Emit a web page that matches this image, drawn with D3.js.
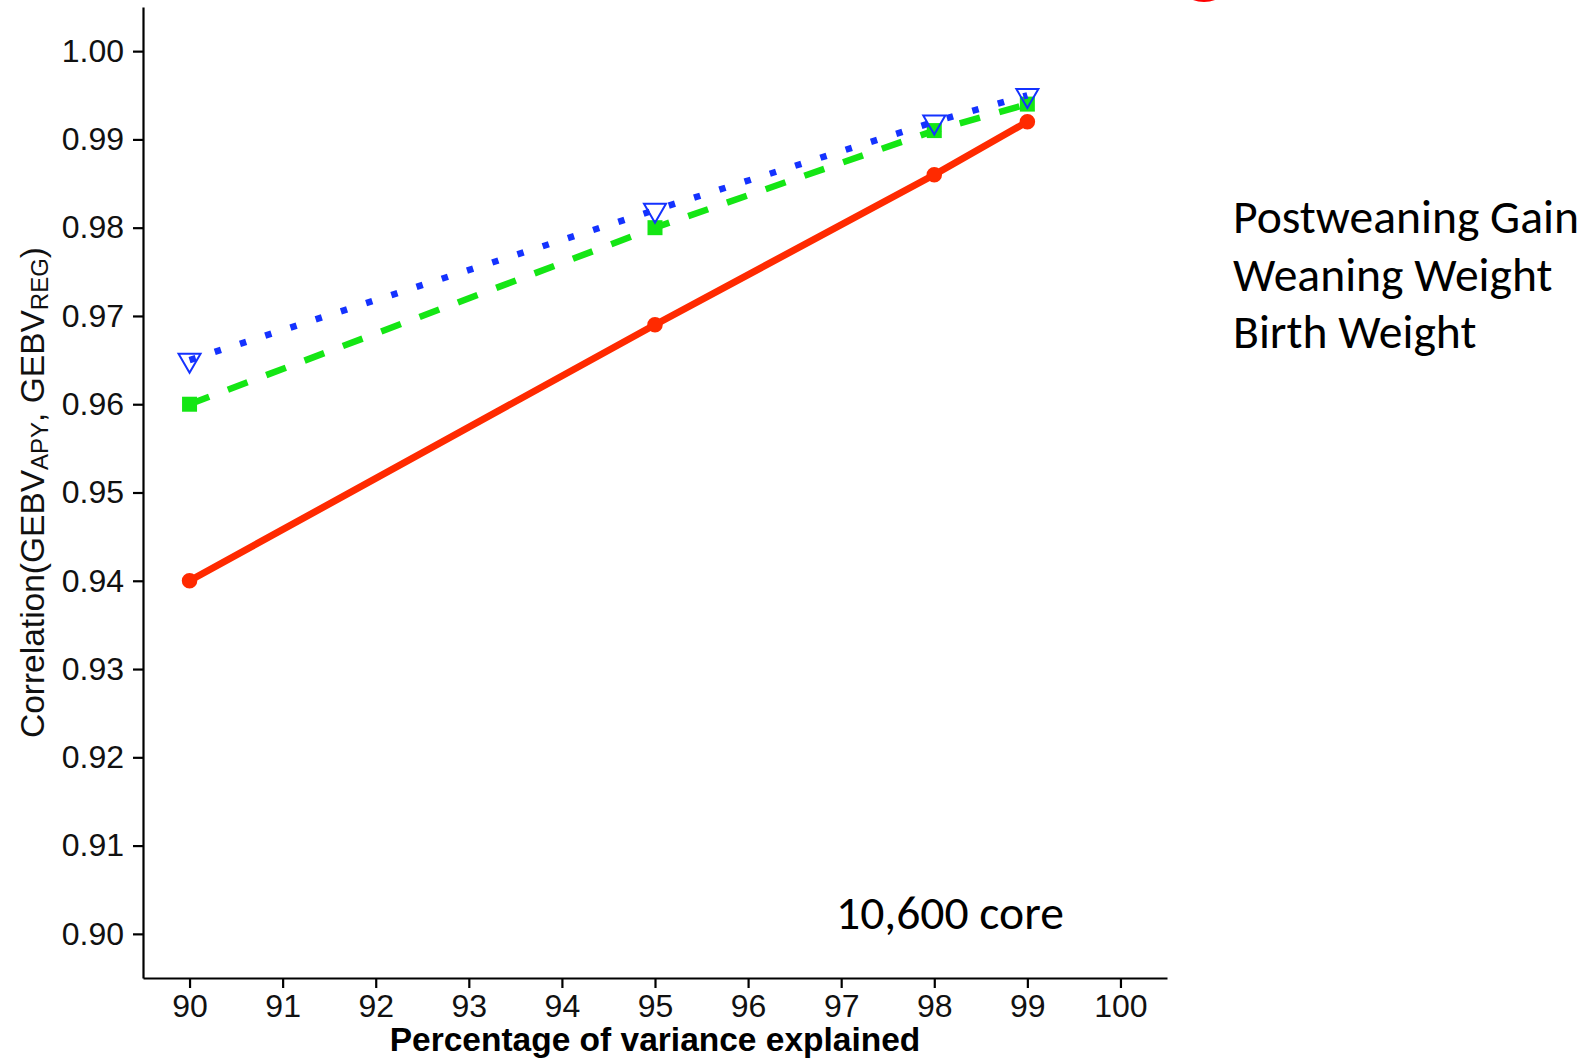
<!DOCTYPE html>
<html>
<head>
<meta charset="utf-8">
<script src="https://cdn.jsdelivr.net/npm/d3@7"></script>
<style>
  html, body { margin: 0; padding: 0; background: #fff; }
  svg { display: block; }
</style>
</head>
<body>
<svg id="chart" width="1585" height="1060"></svg>
<script>
// Percentage of variance explained (x) and correlation for each trait
const variancePct = [90, 95, 98, 99];
const postweaningGain = [0.965, 0.982, 0.992, 0.995];
const weaningWeight   = [0.960, 0.980, 0.991, 0.994];
const birthWeight     = [0.940, 0.969, 0.986, 0.992];
const seriesNames = ["Postweaning Gain", "Weaning Weight", "Birth Weight"];

const xTicks = [90, 91, 92, 93, 94, 95, 96, 97, 98, 99, 100];
const yTicks = [0.90, 0.91, 0.92, 0.93, 0.94, 0.95, 0.96, 0.97, 0.98, 0.99, 1.00];
const xTitle = "Percentage of variance explained";
const coreLabel = "10,600 core";

const svg = d3.select("#chart");
const axisFont = "'Liberation Sans', Arial, Helvetica, sans-serif";
const noteFont = "Carlito, Calibri, Lato, 'Open Sans', sans-serif";

const x = d3.scaleLinear().domain([89.5, 100.5]).range([143, 1167]);
const y = d3.scaleLinear().domain([0.895, 1.005]).range([978, 7]);

// Axes
const xAxis = svg.append("g")
  .attr("transform", `translate(0,${y.range()[0]})`)
  .call(d3.axisBottom(x).tickValues(xTicks).tickFormat(d3.format("d"))
        .tickSize(10).tickSizeOuter(0).tickPadding(6));
const yAxis = svg.append("g")
  .attr("transform", `translate(${x.range()[0]},0)`)
  .call(d3.axisLeft(y).tickValues(yTicks).tickFormat(d3.format(".2f"))
        .tickSize(10).tickSizeOuter(0).tickPadding(9));

[xAxis, yAxis].forEach(g => {
  g.select(".domain").attr("stroke", "#000").attr("stroke-width", 2.2);
  g.selectAll(".tick line").attr("stroke", "#000").attr("stroke-width", 2.2);
  g.selectAll(".tick text")
    .attr("fill", "#111")
    .style("font-family", axisFont)
    .style("font-size", "32px");
});

// Axis titles
svg.append("text")
  .attr("x", d3.mean(x.range()))
  .attr("y", 1051)
  .attr("text-anchor", "middle")
  .style("font-family", axisFont)
  .style("font-size", "33.5px")
  .style("font-weight", "bold")
  .attr("fill", "#000")
  .text(xTitle);

const yTitle = svg.append("text")
  .attr("transform", `translate(44,${d3.mean(y.range())}) rotate(-90)`)
  .attr("text-anchor", "middle")
  .style("font-family", axisFont)
  .style("font-size", "33.5px")
  .attr("fill", "#111");
yTitle.append("tspan").text("Correlation(GEBV");
yTitle.append("tspan").attr("baseline-shift", "-18%").style("font-size", "24px").text("APY");
yTitle.append("tspan").text(", GEBV");
yTitle.append("tspan").attr("baseline-shift", "-18%").style("font-size", "24px").text("REG");
yTitle.append("tspan").text(")");

// Series
const series = [
  { name: seriesNames[2], values: birthWeight,     color: "#ff2a00", width: 7,   dash: null,   shape: "circle" },
  { name: seriesNames[1], values: weaningWeight,   color: "#14e614", width: 6.5, dash: "21,20", shape: "square" },
  { name: seriesNames[0], values: postweaningGain, color: "#1432ff", width: 6.5, dash: "6.5,20", shape: "triangle" }
];

const line = d3.line().x(d => x(d[0])).y(d => y(d[1]));

series.forEach(s => {
  const pts = variancePct.map((v, i) => [v, s.values[i]]);
  const g = svg.append("g");
  g.append("path")
    .attr("d", line(pts))
    .attr("fill", "none")
    .attr("stroke", s.color)
    .attr("stroke-width", s.width)
    .attr("stroke-linecap", "butt")
    .attr("stroke-dasharray", s.dash);

  if (s.shape === "circle") {
    g.selectAll("path.pt").data(pts).enter().append("path")
      .attr("class", "pt")
      .attr("transform", d => `translate(${x(d[0])},${y(d[1])})`)
      .attr("d", d3.symbol().type(d3.symbolCircle).size(190))
      .attr("fill", s.color);
  } else if (s.shape === "square") {
    g.selectAll("path.pt").data(pts).enter().append("path")
      .attr("class", "pt")
      .attr("transform", d => `translate(${x(d[0])},${y(d[1])})`)
      .attr("d", d3.symbol().type(d3.symbolSquare).size(225))
      .attr("fill", s.color);
  } else {
    g.selectAll("path.pt").data(pts).enter().append("path")
      .attr("class", "pt")
      .attr("transform", d => `translate(${x(d[0])},${y(d[1])}) rotate(180)`)
      .attr("d", d3.symbol().type(d3.symbolTriangle).size(210))
      .attr("fill", "none")
      .attr("stroke", s.color)
      .attr("stroke-width", 2);
  }
});

// Trait names listed beside the plot
const names = svg.append("g")
  .style("font-family", noteFont)
  .attr("fill", "#000");
const nameText = names.selectAll("text").data(seriesNames).enter().append("text")
  .attr("x", 1233)
  .attr("y", (d, i) => 233 + i * 57.5)
  .style("font-size", "47px")
  .text(d => d);

// fit the substitute font to the width of the original typeface
const measured = nameText.node().getComputedTextLength();
const fitSize = 47 * 346 / measured;
nameText.style("font-size", fitSize + "px");

svg.append("text")
  .attr("x", 836)
  .attr("y", 929)
  .style("font-family", noteFont)
  .style("font-size", fitSize + "px")
  .attr("fill", "#000")
  .text(coreLabel);

// red outline peeking in at the top edge
svg.append("ellipse")
  .attr("cx", 1204).attr("cy", -28)
  .attr("rx", 28).attr("ry", 28)
  .attr("fill", "none")
  .attr("stroke", "#ff0000")
  .attr("stroke-width", 4);
</script>
</body>
</html>
